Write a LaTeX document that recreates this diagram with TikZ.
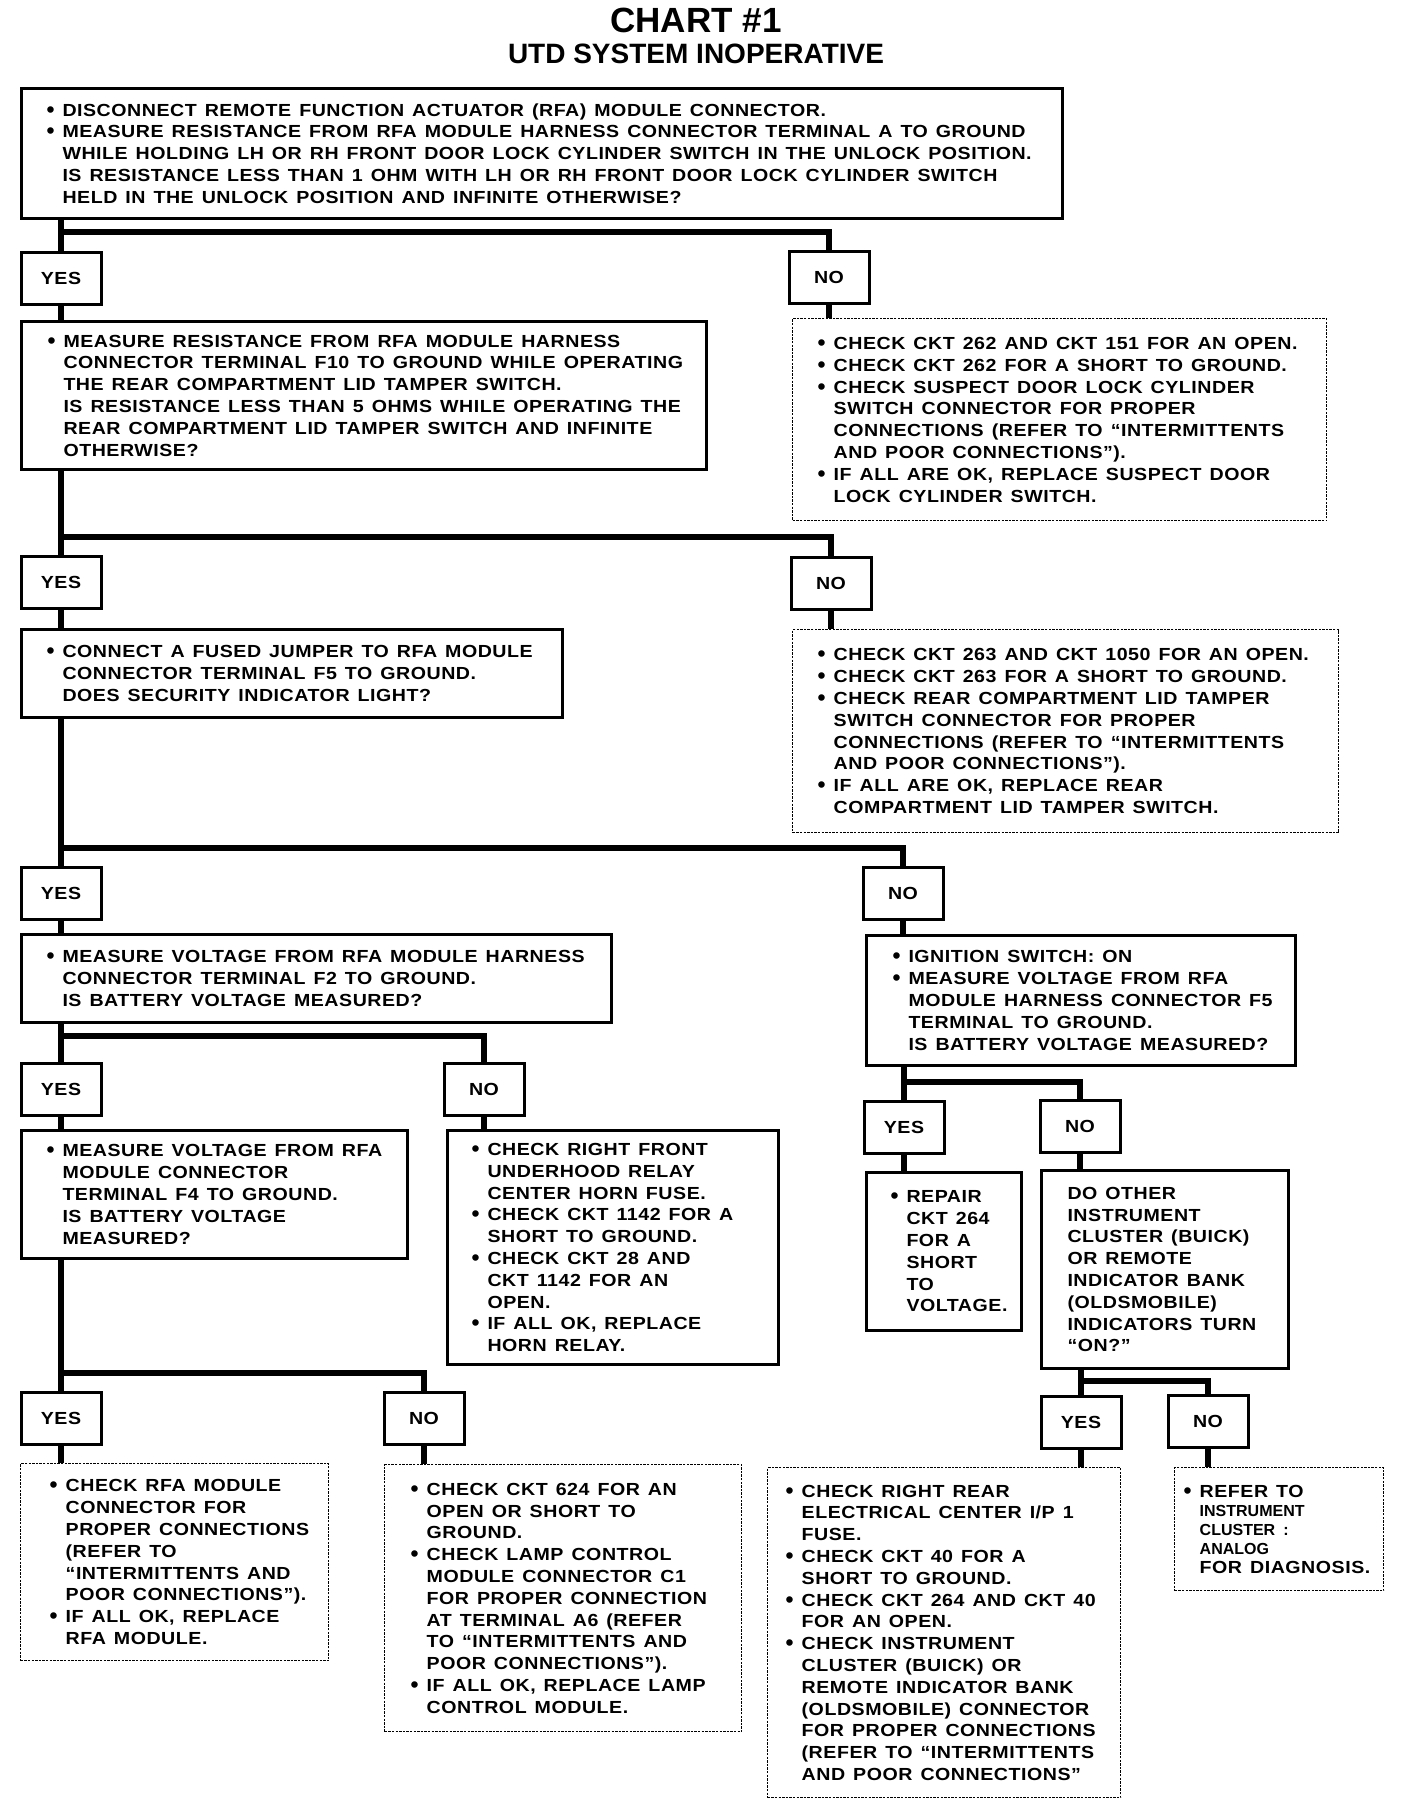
\documentclass[tikz,border=0pt]{standalone}
\usepackage{fontspec}
\usepackage{graphicx}
\setmainfont{Liberation Sans}
\newfontfamily\boxfont{Liberation Sans}[LetterSpace=3,FakeStretch=1.12]
\newfontfamily\headfont{Liberation Sans}
\usetikzlibrary{positioning}
\newcommand\bul{\leavevmode\llap{\makebox[16pt][l]{\raisebox{-1pt}{\scalebox{1.3}{\headfont\textbullet}}}}}
\tikzset{
  blk/.style={draw,line width=3pt,anchor=north west,inner xsep=0pt,inner ysep=0pt,align=left,font=\boxfont\bfseries\fontsize{17.5}{21.8}\selectfont},
  chk/.style={blk,line width=1.4pt,dash pattern=on 2.4pt off 1.2pt},
  yn/.style={draw,line width=3pt,anchor=north,minimum width=80pt,minimum height=52pt,inner sep=0pt,font=\boxfont\bfseries\fontsize{17.5}{20}\selectfont},
  ln/.style={line width=5.5pt},
  pad/.style={execute at begin node={\leftskip=#1pt\spaceskip=8pt\hyphenpenalty=10000\relax}},
}
\begin{document}
\begin{tikzpicture}[x=1pt,y=-1pt]
  \useasboundingbox (0,0) rectangle (1408,1806);
  \node[anchor=base,font=\headfont\bfseries\fontsize{35}{40}\selectfont] (ttl) at (696,33) {CHART \#1};
  \node[anchor=base,font=\headfont\bfseries\fontsize{28}{32}\selectfont] (sub) at (696,64) {UTD SYSTEM INOPERATIVE};

  % first test
  \node[blk,pad=41,text width=1041pt,minimum height=130pt] (q1) at (20,87)
    {\bul DISCONNECT REMOTE FUNCTION ACTUATOR (RFA) MODULE CONNECTOR.\\
     \bul MEASURE RESISTANCE FROM RFA MODULE HARNESS CONNECTOR TERMINAL A TO GROUND\\
     WHILE HOLDING LH OR RH FRONT DOOR LOCK CYLINDER SWITCH IN THE UNLOCK POSITION.\\
     IS RESISTANCE LESS THAN 1 OHM WITH LH OR RH FRONT DOOR LOCK CYLINDER SWITCH\\
     HELD IN THE UNLOCK POSITION AND INFINITE OTHERWISE?};
  \coordinate (j1) at (61,232);
  \node[yn] (y1) at (61,251) {YES};
  \node[yn] (n1) at (829,250) {NO};
  \node[blk,pad=42,text width=685pt,minimum height=148pt] (q2) at (20,320)
    {\bul MEASURE RESISTANCE FROM RFA MODULE HARNESS\\
     CONNECTOR TERMINAL F10 TO GROUND WHILE OPERATING\\
     THE REAR COMPARTMENT LID TAMPER SWITCH.\\
     IS RESISTANCE LESS THAN 5 OHMS WHILE OPERATING THE\\
     REAR COMPARTMENT LID TAMPER SWITCH AND INFINITE\\
     OTHERWISE?};
  \node[chk,pad=41,text width=534pt,minimum height=202pt] (c1) at (792,318)
    {\bul CHECK CKT 262 AND CKT 151 FOR AN OPEN.\\
     \bul CHECK CKT 262 FOR A SHORT TO GROUND.\\
     \bul CHECK SUSPECT DOOR LOCK CYLINDER\\
     SWITCH CONNECTOR FOR PROPER\\
     CONNECTIONS (REFER TO “INTERMITTENTS\\
     AND POOR CONNECTIONS”).\\
     \bul IF ALL ARE OK, REPLACE SUSPECT DOOR\\
     LOCK CYLINDER SWITCH.};

  % second test
  \coordinate (j2) at (61,537);
  \node[yn] (y2) at (61,555) {YES};
  \node[yn] (n2) at (831,556) {NO};
  \node[blk,pad=41,text width=541pt,minimum height=88pt] (q3) at (20,628)
    {\bul CONNECT A FUSED JUMPER TO RFA MODULE\\
     CONNECTOR TERMINAL F5 TO GROUND.\\
     DOES SECURITY INDICATOR LIGHT?};
  \node[chk,pad=41,text width=546pt,minimum height=203pt] (c2) at (792,629)
    {\bul CHECK CKT 263 AND CKT 1050 FOR AN OPEN.\\
     \bul CHECK CKT 263 FOR A SHORT TO GROUND.\\
     \bul CHECK REAR COMPARTMENT LID TAMPER\\
     SWITCH CONNECTOR FOR PROPER\\
     CONNECTIONS (REFER TO “INTERMITTENTS\\
     AND POOR CONNECTIONS”).\\
     \bul IF ALL ARE OK, REPLACE REAR\\
     COMPARTMENT LID TAMPER SWITCH.};

  % third test
  \coordinate (j3) at (61,848);
  \node[yn] (y3) at (61,866) {YES};
  \node[yn] (n3) at (903,866) {NO};
  \node[blk,pad=41,text width=590pt,minimum height=88pt] (q4) at (20,933)
    {\bul MEASURE VOLTAGE FROM RFA MODULE HARNESS\\
     CONNECTOR TERMINAL F2 TO GROUND.\\
     IS BATTERY VOLTAGE MEASURED?};
  \node[blk,pad=42,text width=429pt,minimum height=130pt] (q5) at (865,934)
    {\bul IGNITION SWITCH: ON\\
     \bul MEASURE VOLTAGE FROM RFA\\
     MODULE HARNESS CONNECTOR F5\\
     TERMINAL TO GROUND.\\
     IS BATTERY VOLTAGE MEASURED?};

  % left side, battery voltage at F2
  \coordinate (j4) at (61,1036);
  \node[yn] (y4) at (61,1062) {YES};
  \node[yn] (n4) at (484,1062) {NO};
  \node[blk,pad=41,text width=386pt,minimum height=128pt] (q6) at (20,1129)
    {\bul MEASURE VOLTAGE FROM RFA\\
     MODULE CONNECTOR\\
     TERMINAL F4 TO GROUND.\\
     IS BATTERY VOLTAGE\\
     MEASURED?};
  \node[blk,pad=40,text width=331pt,minimum height=234pt] (q7) at (446,1129)
    {\bul CHECK RIGHT FRONT\\
     UNDERHOOD RELAY\\
     CENTER HORN FUSE.\\
     \bul CHECK CKT 1142 FOR A\\
     SHORT TO GROUND.\\
     \bul CHECK CKT 28 AND\\
     CKT 1142 FOR AN\\
     OPEN.\\
     \bul IF ALL OK, REPLACE\\
     HORN RELAY.};

  % right side, battery voltage at F5
  \coordinate (j5) at (904,1082);
  \node[yn] (y5) at (904,1100) {YES};
  \node[yn] (n5) at (1080,1099) {NO};
  \node[blk,pad=40,text width=155pt,minimum height=158pt] (q8) at (865,1171)
    {\bul REPAIR\\ CKT 264\\ FOR A\\ SHORT\\ TO\\ VOLTAGE.};
  \node[blk,pad=26,text width=247pt,minimum height=198pt] (q9) at (1040,1169)
    {DO OTHER\\
     INSTRUMENT\\
     CLUSTER (BUICK)\\
     OR REMOTE\\
     INDICATOR BANK\\
     (OLDSMOBILE)\\
     INDICATORS TURN\\
     “ON?”};
  \coordinate (j6) at (1081,1381);
  \node[yn] (y6) at (1081,1395) {YES};
  \node[yn] (n6) at (1208,1394) {NO};
  \node[chk,pad=34,text width=353pt,minimum height=330pt] (c5) at (767,1467)
    {\bul CHECK RIGHT REAR\\
     ELECTRICAL CENTER I/P 1\\
     FUSE.\\
     \bul CHECK CKT 40 FOR A\\
     SHORT TO GROUND.\\
     \bul CHECK CKT 264 AND CKT 40\\
     FOR AN OPEN.\\
     \bul CHECK INSTRUMENT\\
     CLUSTER (BUICK) OR\\
     REMOTE INDICATOR BANK\\
     (OLDSMOBILE) CONNECTOR\\
     FOR PROPER CONNECTIONS\\
     (REFER TO “INTERMITTENTS\\
     AND POOR CONNECTIONS”};
  \node[chk,pad=25,text width=209pt,minimum height=123pt,font=\boxfont\bfseries\fontsize{17.5}{19}\selectfont] (c6) at (1174,1467)
    {\bul REFER TO\\
     {\headfont\bfseries\fontsize{16}{19}\selectfont INSTRUMENT}\\
     {\headfont\bfseries\fontsize{16}{19}\selectfont CLUSTER :}\\
     {\headfont\bfseries\fontsize{16}{19}\selectfont ANALOG}\\
     FOR~DIAGNOSIS.};

  % left side, battery voltage at F4
  \coordinate (j7) at (61,1373);
  \node[yn] (y7) at (61,1391) {YES};
  \node[yn] (n7) at (424,1391) {NO};
  \node[chk,pad=45,text width=308pt,minimum height=197pt] (c3) at (20,1463)
    {\bul CHECK RFA MODULE\\
     CONNECTOR FOR\\
     PROPER CONNECTIONS\\
     (REFER TO\\
     “INTERMITTENTS AND\\
     POOR CONNECTIONS”).\\
     \bul IF ALL OK, REPLACE\\
     RFA MODULE.};
  \node[chk,pad=42,text width=357pt,minimum height=267pt] (c4) at (384,1464)
    {\bul CHECK CKT 624 FOR AN\\
     OPEN OR SHORT TO\\
     GROUND.\\
     \bul CHECK LAMP CONTROL\\
     MODULE CONNECTOR C1\\
     FOR PROPER CONNECTION\\
     AT TERMINAL A6 (REFER\\
     TO “INTERMITTENTS AND\\
     POOR CONNECTIONS”).\\
     \bul IF ALL OK, REPLACE LAMP\\
     CONTROL MODULE.};

  % connectors
  \draw[ln] (q1.south -| y1) -- (y1.north); \draw[ln] (j1) -| (n1.north);
  \draw[ln] (y1.south) -- (y1.south |- q2.north); \draw[ln] (n1.south) -- (n1.south |- c1.north);
  \draw[ln] (q2.south -| y2) -- (y2.north); \draw[ln] (j2) -| (n2.north);
  \draw[ln] (y2.south) -- (y2.south |- q3.north); \draw[ln] (n2.south) -- (n2.south |- c2.north);
  \draw[ln] (q3.south -| y3) -- (y3.north); \draw[ln] (j3) -| (n3.north);
  \draw[ln] (y3.south) -- (y3.south |- q4.north); \draw[ln] (n3.south) -- (n3.south |- q5.north);
  \draw[ln] (q4.south -| y4) -- (y4.north); \draw[ln] (j4) -| (n4.north);
  \draw[ln] (y4.south) -- (y4.south |- q6.north); \draw[ln] (n4.south) -- (n4.south |- q7.north);
  \draw[ln] (q5.south -| y5) -- (y5.north); \draw[ln] (j5) -| (n5.north);
  \draw[ln] (y5.south) -- (y5.south |- q8.north); \draw[ln] (n5.south) -- (n5.south |- q9.north);
  \draw[ln] (q9.south -| y6) -- (y6.north); \draw[ln] (j6) -| (n6.north);
  \draw[ln] (y6.south) -- (y6.south |- c5.north); \draw[ln] (n6.south) -- (n6.south |- c6.north);
  \draw[ln] (q6.south -| y7) -- (y7.north); \draw[ln] (j7) -| (n7.north);
  \draw[ln] (y7.south) -- (y7.south |- c3.north); \draw[ln] (n7.south) -- (n7.south |- c4.north);
\end{tikzpicture}
\end{document}
